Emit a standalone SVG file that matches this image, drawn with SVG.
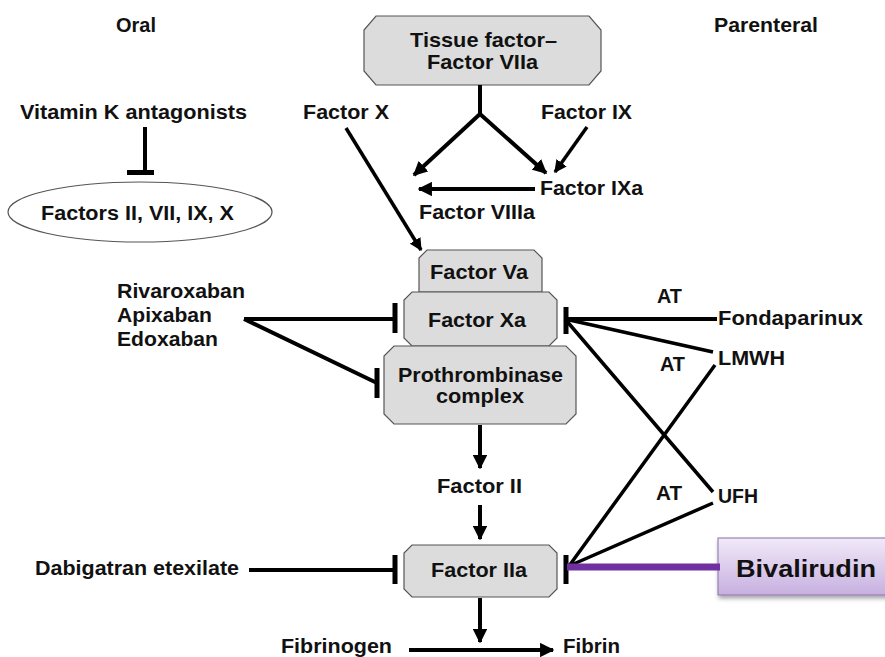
<svg xmlns="http://www.w3.org/2000/svg" width="885" height="657" viewBox="0 0 885 657">
<defs>
<marker id="ah" viewBox="0 0 10 10" refX="9" refY="5" markerWidth="3.6" markerHeight="3.6" orient="auto" markerUnits="strokeWidth"><path d="M0,0 L10,5 L0,10 z" fill="#000"/></marker>
<linearGradient id="lav" x1="0" y1="0" x2="0" y2="1"><stop offset="0" stop-color="#f1e9f8"/><stop offset="1" stop-color="#c7b0e0"/></linearGradient>
<filter id="sh" x="-10%" y="-10%" width="130%" height="140%"><feDropShadow dx="1" dy="3" stdDeviation="2" flood-color="#000" flood-opacity="0.35"/></filter>
</defs>
<style>
text{font-family:"Liberation Sans",Arial,sans-serif;font-weight:bold;font-size:19.5px;fill:#111}
.box{fill:#dcdcdc;stroke:#555;stroke-width:1.2}
.ln{stroke:#000;stroke-width:4;fill:none}
.th{stroke:#000;stroke-width:3.5;fill:none}
.ar{stroke:#000;stroke-width:4;fill:none;marker-end:url(#ah)}
.bar{stroke:#000;stroke-width:5;fill:none}
</style>
<rect width="885" height="657" fill="#fff"/>
<text x="116" y="32" textLength="40" lengthAdjust="spacingAndGlyphs">Oral</text>
<text x="714" y="32" textLength="104" lengthAdjust="spacingAndGlyphs">Parenteral</text>

<g id="tf">
<polygon class="box" points="376,16 589,16 601,30 601,71 589,85 376,85 364,71 364,30"/>
<text x="410" y="47" style="font-size:21px" textLength="147" lengthAdjust="spacingAndGlyphs">Tissue factor–</text>
<text x="427" y="69" style="font-size:21px" textLength="111" lengthAdjust="spacingAndGlyphs">Factor VIIa</text>
</g>
<g id="vka"><text x="20" y="119" textLength="227" lengthAdjust="spacingAndGlyphs">Vitamin K antagonists</text></g>
<g id="factors">
<ellipse cx="140" cy="212" rx="132" ry="30" fill="#fff" stroke="#555" stroke-width="1.2"/>
<text x="41" y="220" textLength="193" lengthAdjust="spacingAndGlyphs">Factors II, VII, IX, X</text>
</g>
<g id="fx"><text x="303" y="119" textLength="86" lengthAdjust="spacingAndGlyphs">Factor X</text></g>
<g id="fix"><text x="541" y="119" textLength="91" lengthAdjust="spacingAndGlyphs">Factor IX</text></g>
<g id="fixa"><text x="540" y="195" textLength="103" lengthAdjust="spacingAndGlyphs">Factor IXa</text></g>
<g id="fviiia"><text x="419" y="219" textLength="116" lengthAdjust="spacingAndGlyphs">Factor VIIIa</text></g>
<g id="fva">
<polygon class="box" points="427,250 534,250 542,258 542,292 419,292 419,258"/>
<text x="430" y="279" textLength="98" lengthAdjust="spacingAndGlyphs">Factor Va</text>
</g>
<g id="fxa">
<polygon class="box" points="412,292 549,292 557,300 557,338 549,346 412,346 404,338 404,300"/>
<text x="428" y="327" textLength="98" lengthAdjust="spacingAndGlyphs">Factor Xa</text>
</g>
<g id="ptc">
<polygon class="box" points="394,346 566,346 576,356 576,414 566,424 394,424 384,414 384,356"/>
<text x="398" y="382" textLength="165" lengthAdjust="spacingAndGlyphs">Prothrombinase</text>
<text x="436" y="403" textLength="88" lengthAdjust="spacingAndGlyphs">complex</text>
</g>
<g id="xai">
<text x="117" y="298" textLength="128" lengthAdjust="spacingAndGlyphs">Rivaroxaban</text>
<text x="117" y="322" textLength="95" lengthAdjust="spacingAndGlyphs">Apixaban</text>
<text x="117" y="346" textLength="101" lengthAdjust="spacingAndGlyphs">Edoxaban</text>
</g>
<g id="fonda"><text x="718" y="325" textLength="145" lengthAdjust="spacingAndGlyphs">Fondaparinux</text></g>
<g id="lmwh"><text x="718" y="365" textLength="67" lengthAdjust="spacingAndGlyphs">LMWH</text></g>
<g id="ufh"><text x="718" y="503" textLength="40" lengthAdjust="spacingAndGlyphs">UFH</text></g>
<g id="fii"><text x="437" y="493" textLength="85" lengthAdjust="spacingAndGlyphs">Factor II</text></g>
<g id="fiia">
<polygon class="box" points="412,545 549,545 557,553 557,589 549,597 412,597 404,589 404,553"/>
<text x="431" y="577" textLength="96" lengthAdjust="spacingAndGlyphs">Factor IIa</text>
</g>
<g id="dabi"><text x="35" y="575" textLength="204" lengthAdjust="spacingAndGlyphs">Dabigatran etexilate</text></g>
<g id="biv">
<rect x="718" y="538" width="172" height="57" fill="url(#lav)" stroke="#8a73a8" stroke-width="1" filter="url(#sh)"/>
<text x="736" y="577" style="font-size:24px" textLength="140" lengthAdjust="spacingAndGlyphs">Bivalirudin</text>
</g>
<g id="fgn"><text x="281" y="653" textLength="111" lengthAdjust="spacingAndGlyphs">Fibrinogen</text></g>
<g id="fib"><text x="563" y="653" textLength="57" lengthAdjust="spacingAndGlyphs">Fibrin</text></g>
<g id="at">
<text x="657" y="303" textLength="25" lengthAdjust="spacingAndGlyphs">AT</text>
<text x="660" y="371" textLength="25" lengthAdjust="spacingAndGlyphs">AT</text>
<text x="656" y="500" textLength="26" lengthAdjust="spacingAndGlyphs">AT</text>
</g>

<g id="connectors">
<path class="ln" d="M480,85 V116"/>
<path class="ar" d="M480,114 L414,175"/>
<path class="ar" d="M480,114 L546,173"/>
<path class="ar" style="stroke-width:3.5" d="M587,127 L555,172"/>
<path class="ar" d="M535,189 L419,189"/>
<path class="ar" style="stroke-width:3.5" d="M346,128 L421,250"/>
<path class="ln" d="M145,127 V171"/>
<path class="bar" d="M127,172.5 H154"/>
<path class="ln" d="M244,319 H394 M244,319 L377,383"/>
<path class="bar" d="M395,303 V333 M377,368 V398"/>
<path class="ln" d="M565,319 H717"/>
<path class="th" d="M565,319 L713,352 M565,319 L713,492"/>
<path class="bar" d="M566,307 V334"/>
<path class="ar" d="M480,425 V468"/>
<path class="ar" d="M480,505 V539"/>
<path class="ln" d="M249,570 H393"/>
<path class="bar" d="M395,555 V584 M566,555 V584"/>
<path class="th" d="M569,566 L715,365 M569,566 L713,503"/>
<path d="M567,567 H720" stroke="#7030a0" stroke-width="7" fill="none"/>
<path class="ar" d="M480,598 V642"/>
<path class="ar" d="M409,650 H553"/>
</g>
</svg>
